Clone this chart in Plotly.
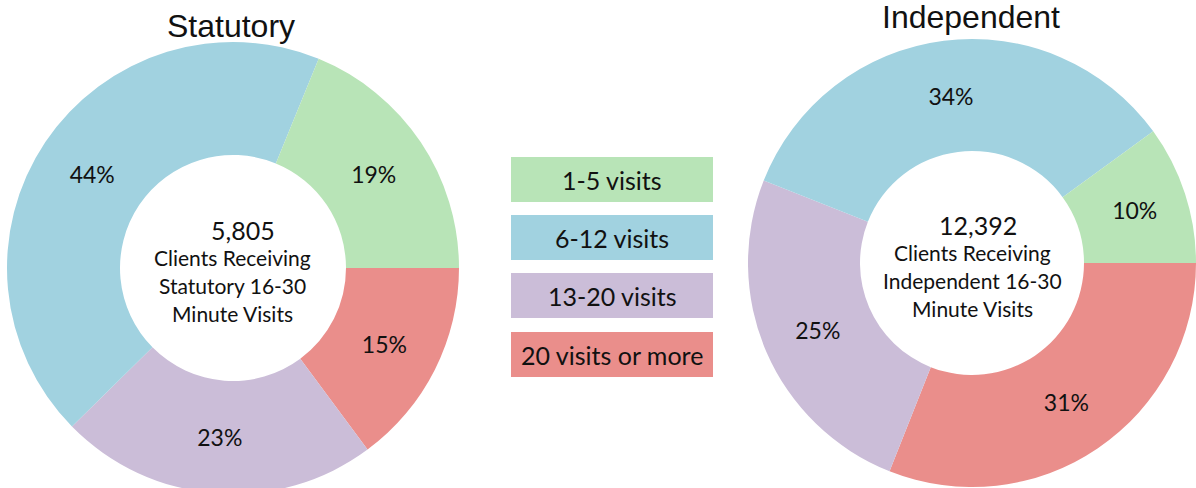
import plotly.graph_objects as go

categories = ['1-5 visits', '6-12 visits', '13-20 visits', '20 visits or more']
colors = ['#B8E4B7', '#A1D2E0', '#CBBDD8', '#EA8E8B']

statutory_pct = [19, 44, 23, 15]
independent_pct = [10, 34, 25, 31]
statutory_total = '5,805'
independent_total = '12,392'

W, H = 1200, 500


def px(x, y):
    return x / W, 1 - y / H


def dom(cx, cy, r):
    return dict(x=[(cx - r) / W, (cx + r) / W], y=[1 - (cy + r) / H, 1 - (cy - r) / H])


fig = go.Figure()
for vals, d in [(statutory_pct, dom(233, 268, 226)), (independent_pct, dom(972, 263, 224))]:
    # drawn clockwise from 3 o'clock in reverse order, so green ends up above the horizontal
    fig.add_trace(go.Pie(
        labels=categories[::-1], values=vals[::-1], text=[f'{v}%' for v in vals[::-1]],
        textinfo='text', textposition='inside', insidetextorientation='horizontal',
        hole=0.5, sort=False, direction='clockwise', rotation=90,
        marker=dict(colors=colors[::-1], line=dict(width=0)),
        textfont=dict(family='Lato', size=23, color='#111111'),
        domain=d, showlegend=False, hoverinfo='label+text'))

ann = []


def add_text(x, y, s, size, family='Lato'):
    ax, ay = px(x, y)
    ann.append(dict(x=ax, y=ay, xref='paper', yref='paper', text=s, showarrow=False,
                    xanchor='center', yanchor='middle',
                    font=dict(family=family, size=size, color='#111111')))


# titles
add_text(231, 26, 'Statutory', 32, 'Liberation Sans')
add_text(971, 17, 'Independent', 32, 'Liberation Sans')

# centre text
add_text(243, 230, statutory_total, 25)
add_text(233, 257, 'Clients Receiving', 21)
add_text(233, 285, 'Statutory 16-30', 21)
add_text(233, 313, 'Minute Visits', 21)
add_text(978, 225, independent_total, 25)
add_text(972, 252, 'Clients Receiving', 21)
add_text(972, 280, 'Independent 16-30', 21)
add_text(972, 308, 'Minute Visits', 21)

# legend boxes
shapes = []
box_tops = [157, 215, 273, 332]
for cat, col, top in zip(categories, colors, box_tops):
    x0, y0 = px(511, top + 45)
    x1, y1 = px(713, top)
    shapes.append(dict(type='rect', xref='paper', yref='paper', x0=x0, x1=x1, y0=y0, y1=y1,
                       fillcolor=col, line=dict(width=0), layer='below'))
    add_text(612, top + 23, cat, 25)

fig.update_layout(width=W, height=H, margin=dict(l=0, r=0, t=0, b=0),
                  paper_bgcolor='white', plot_bgcolor='white',
                  annotations=ann, shapes=shapes)

fig.write_html("out.html", config={'displayModeBar': False},
               post_script="document.body.style.margin='0';document.body.style.overflow='hidden';")
